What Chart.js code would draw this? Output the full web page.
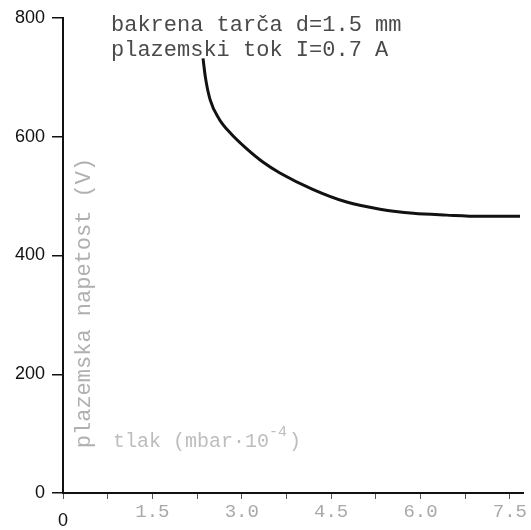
<!DOCTYPE html>
<html>
<head>
<meta charset="utf-8">
<script src="https://cdn.jsdelivr.net/npm/chart.js@4.4.1/dist/chart.umd.min.js"></script>
<style>
html,body{margin:0;padding:0;background:#fff;}
#wrap{width:531px;height:530px;position:relative;}
</style>
</head>
<body>
<div id="wrap"><canvas id="c" width="531" height="530"></canvas></div>
<script>
// Data
const pressure = [2.35, 2.39, 2.47, 2.62, 2.82, 3.08, 3.36, 3.64, 4.20, 4.76, 5.32, 5.88, 6.44, 7.00, 7.67];
const voltage  = [732, 700, 662, 630, 605, 580, 557, 539, 511, 490, 478, 471, 468, 466, 466];
const yTicks = [0, 200, 400, 600, 800];
const xTicks = [0, 0.75, 1.5, 2.25, 3.0, 3.75, 4.5, 5.25, 6.0, 6.75, 7.5];
const xTickLabels = {1.5: '1.5', 3: '3.0', 4.5: '4.5', 6: '6.0', 7.5: '7.5'};
const annotationLines = ['bakrena tarča d=1.5 mm', 'plazemski tok I=0.7 A'];
const xTitle = 'tlak (mbar·10';
const xTitleExp = '-4';
const yTitle = 'plazemska napetost (V)';

const textPlugin = {
  id: 'texts',
  afterDraw(chart) {
    const ctx = chart.ctx;
    const xs = chart.scales.x;
    ctx.save();
    // annotation
    ctx.fillStyle = '#4a4a4a';
    ctx.font = '22px "Liberation Mono", monospace';
    ctx.textAlign = 'left';
    ctx.textBaseline = 'alphabetic';
    ctx.fillText(annotationLines[0], 111, 31);
    ctx.fillText(annotationLines[1], 111, 56);
    // x title
    ctx.fillStyle = '#bdbdbd';
    ctx.font = '20px "Liberation Mono", monospace';
    const tx = 113, ty = 447;
    ctx.fillText(xTitle, tx, ty);
    const w = ctx.measureText(xTitle).width;
    ctx.font = '15px "Liberation Mono", monospace';
    ctx.fillText(xTitleExp, tx + w, ty - 11);
    const w2 = ctx.measureText(xTitleExp).width;
    ctx.font = '20px "Liberation Mono", monospace';
    ctx.fillText(')', tx + w + w2 + 2, ty);
    // y title
    ctx.save();
    ctx.translate(90, 303);
    ctx.rotate(-Math.PI / 2);
    ctx.textAlign = 'center';
    ctx.fillStyle = '#b0b0b0';
    ctx.font = '22px "Liberation Mono", monospace';
    ctx.fillText(yTitle, 0, 0);
    ctx.restore();
    // origin label on x
    ctx.fillStyle = '#111';
    ctx.font = '18px "Liberation Sans", Arial, sans-serif';
    ctx.textAlign = 'center';
    ctx.textBaseline = 'middle';
    ctx.fillText('0', xs.getPixelForValue(0), 521);
    ctx.restore();
  }
};

new Chart(document.getElementById('c'), {
  type: 'line',
  data: {
    datasets: [{
      data: pressure.map((p, i) => ({x: p, y: voltage[i]})),
      borderColor: '#111',
      borderWidth: 3,
      pointRadius: 0,
      fill: false,
      cubicInterpolationMode: 'monotone'
    }]
  },
  options: {
    responsive: false,
    animation: false,
    devicePixelRatio: 1,
    layout: {padding: {top: 18, right: 8, left: 0, bottom: 0}},
    plugins: {legend: {display: false}, tooltip: {enabled: false}},
    scales: {
      x: {
        type: 'linear',
        min: 0,
        max: 7.72,
        afterBuildTicks(scale) { scale.ticks = xTicks.map(v => ({value: v})); },
        afterFit(scale) { scale.height = 37; scale.paddingRight = 0; scale.paddingLeft = 0; },
        border: {display: true, color: '#111', width: 2},
        grid: {drawOnChartArea: false, drawTicks: true, tickLength: 6, color: '#555', lineWidth: 1},
        ticks: {
          autoSkip: false,
          maxRotation: 0,
          padding: 2,
          color: '#a9a9a9',
          font: {family: '"Liberation Mono", monospace', size: 19},
          callback: (v) => xTickLabels[v] || ''
        }
      },
      y: {
        type: 'linear',
        min: 0,
        max: 800,
        afterBuildTicks(scale) { scale.ticks = yTicks.map(v => ({value: v})); },
        afterFit(scale) { scale.width = 63; scale.paddingTop = 0; scale.paddingBottom = 0; },
        border: {display: true, color: '#111', width: 2},
        grid: {drawOnChartArea: false, drawTicks: true, tickLength: 11, color: '#111', lineWidth: 1.5},
        ticks: {
          color: '#111',
          padding: 7,
          font: {family: '"Liberation Sans", Arial, sans-serif', size: 18},
          callback: (v) => String(v)
        }
      }
    }
  },
  plugins: [textPlugin]
});
</script>
</body>
</html>
